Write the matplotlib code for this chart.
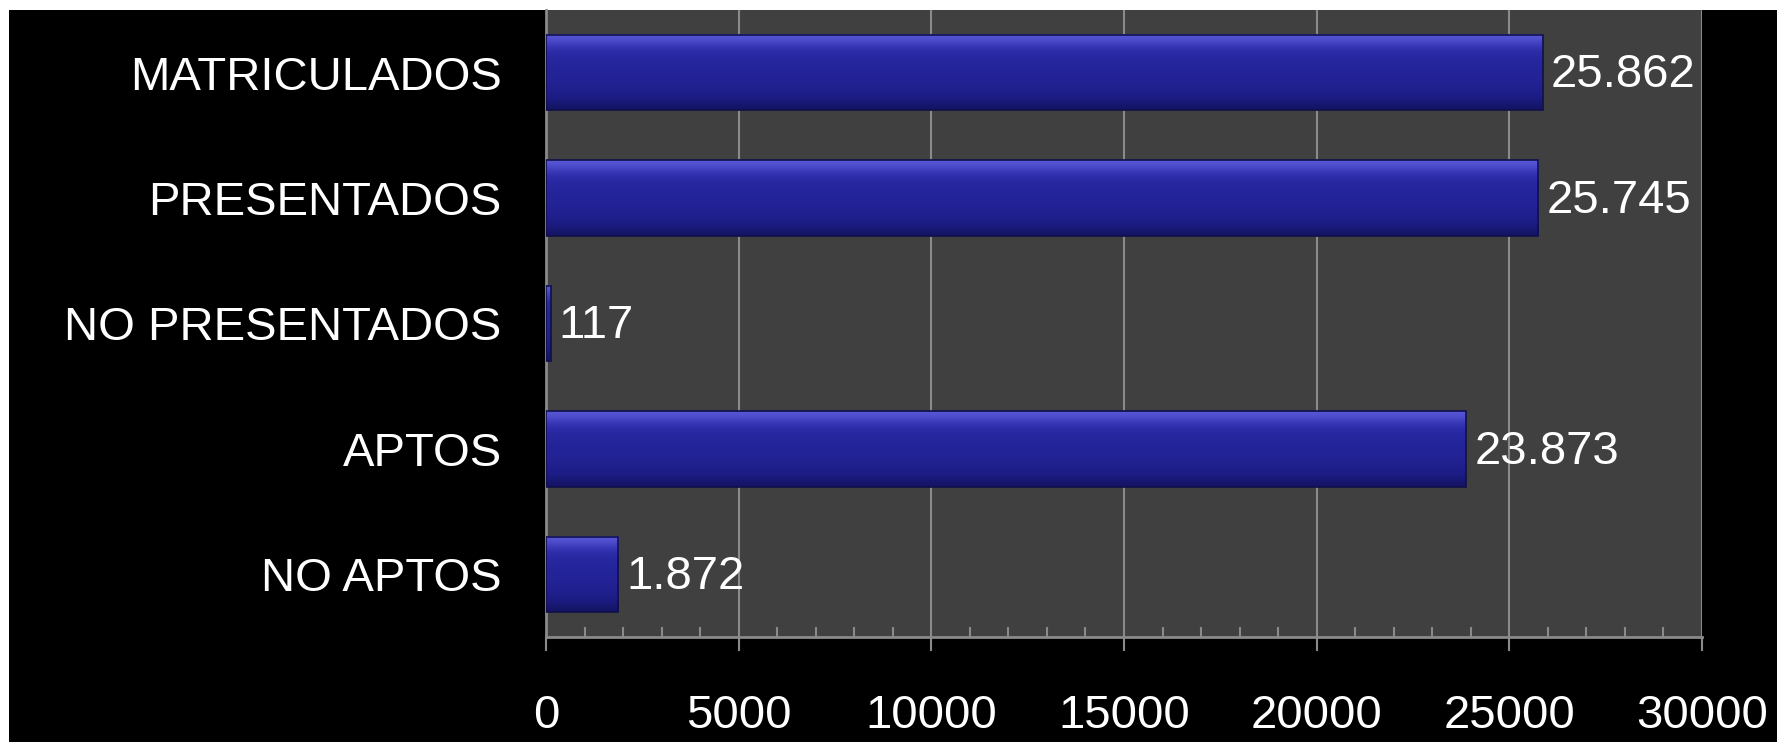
import numpy as np
import matplotlib
matplotlib.use("Agg")
import matplotlib.pyplot as plt
from matplotlib.patches import Rectangle
from matplotlib.ticker import MultipleLocator

# data
categories = ["MATRICULADOS", "PRESENTADOS", "NO PRESENTADOS", "APTOS", "NO APTOS"]
values = [25862, 25745, 117, 23873, 1872]
value_labels = ["25.862", "25.745", "117", "23.873", "1.872"]
x_ticks = [0, 5000, 10000, 15000, 20000, 25000, 30000]

plt.rcParams['font.family'] = ['Liberation Sans', 'DejaVu Sans']

fig = plt.figure(figsize=(17.77, 7.42), dpi=100, facecolor='white')
# black slide background (thin white strip at top and left)
fig.patches.append(Rectangle((9 / 1777, 0), 1, 1 - 10 / 742,
                             transform=fig.transFigure, facecolor='black',
                             edgecolor='none', zorder=-10))

ax = fig.add_axes([546 / 1777, 1 - 637 / 742, (1702 - 546) / 1777, (637 - 10) / 742])
ax.set_facecolor('#404040')

n = len(categories)
ypos = np.arange(n)[::-1]
bar_h = 0.6

# vertical shading for the bevelled bars
grad = np.array([
    [0.34, 0.34, 0.84],
    [0.22, 0.22, 0.72],
    [0.16, 0.16, 0.64],
    [0.15, 0.15, 0.62],
    [0.14, 0.14, 0.60],
    [0.14, 0.14, 0.60],
    [0.13, 0.13, 0.57],
    [0.12, 0.12, 0.55],
    [0.11, 0.11, 0.52],
    [0.08, 0.08, 0.40],
])[:, None, :]

for y, v in zip(ypos, values):
    ax.imshow(grad, extent=(0, v, y - bar_h / 2, y + bar_h / 2),
              aspect='auto', interpolation='bicubic', zorder=3)
    ax.barh(y, v, height=bar_h, color='none', edgecolor='#10104a',
            linewidth=1.2, zorder=4)

for y, v, lab in zip(ypos, values, value_labels):
    ax.annotate(lab, (v, y), xytext=(6, -2), textcoords='offset points',
                va='center', ha='left', color='white', fontsize=34, zorder=5)

ax.set_xlim(0, 30000)
ax.set_ylim(-0.5, n - 0.5)
ax.set_yticks(ypos)
ax.set_yticklabels(categories, color='white', fontsize=34)
ax.tick_params(axis='y', length=0, pad=32)

ax.set_xticks(x_ticks)
ax.set_xticklabels([str(t) for t in x_ticks], color='white', fontsize=34)
ax.xaxis.set_minor_locator(MultipleLocator(1000))
ax.tick_params(axis='x', which='major', direction='out', length=10,
               width=1.5, color='#8a8a8a', pad=31)
ax.tick_params(axis='x', which='minor', direction='in', length=7,
               width=1.5, color='#8a8a8a')

ax.grid(axis='x', which='major', color='#8a8a8a', linewidth=1.5, zorder=1)
ax.set_axisbelow(True)

for s in ['top', 'right']:
    ax.spines[s].set_visible(False)
for s in ['left', 'bottom']:
    ax.spines[s].set_color('#8a8a8a')
    ax.spines[s].set_linewidth(2)

fig.savefig("out.png", dpi=100)
